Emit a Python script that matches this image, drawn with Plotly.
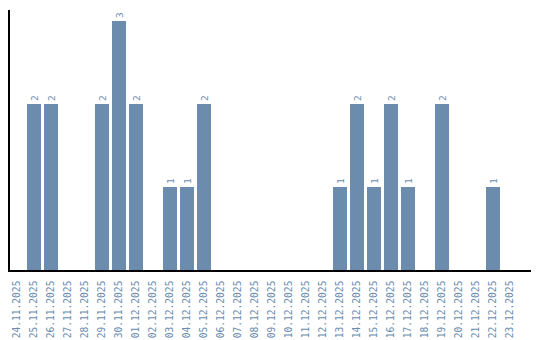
import plotly.graph_objects as go

dates = ["24.11.2025","25.11.2025","26.11.2025","27.11.2025","28.11.2025","29.11.2025",
         "30.11.2025","01.12.2025","02.12.2025","03.12.2025","04.12.2025","05.12.2025",
         "06.12.2025","07.12.2025","08.12.2025","09.12.2025","10.12.2025","11.12.2025",
         "12.12.2025","13.12.2025","14.12.2025","15.12.2025","16.12.2025","17.12.2025",
         "18.12.2025","19.12.2025","20.12.2025","21.12.2025","22.12.2025","23.12.2025"]
counts = [0,2,2,0,0,2,3,2,0,1,1,2,0,0,0,0,0,0,0,1,2,1,2,1,0,2,0,0,1,0]

bar_color = "#6b8cac"
text_color = "#6a8caf"
font_family = "DejaVu Sans Mono"
labels = [str(v) if v > 0 else "" for v in counts]

fig = go.Figure(go.Bar(
    x=list(range(len(dates))), y=counts, marker_color=bar_color, marker_line_width=0,
    text=labels, textposition="outside", textangle=-90,
    textfont=dict(family=font_family, size=9.5, color=text_color),
    cliponaxis=False, width=0.824,
))
fig.update_layout(
    width=540, height=340,
    margin=dict(l=10, r=9, t=10, b=70),
    paper_bgcolor="white", plot_bgcolor="white",
    showlegend=False,
    font=dict(family=font_family, size=10, color=text_color),
)
fig.update_xaxes(range=[-0.412, 30.235], tickmode="array", automargin=False,
                 tickvals=list(range(len(dates))), ticktext=dates,
                 tickangle=-90, showgrid=False, showline=True, zeroline=False,
                 linecolor="black", linewidth=1.5, ticks="", ticklabelstandoff=5,
                 tickfont=dict(family=font_family, size=9.6, color=text_color))
fig.update_yaxes(range=[0, 3.133], showgrid=False, showline=True, linecolor="black",
                 linewidth=1.5, showticklabels=False, ticks="", zeroline=False,
                 automargin=False)
fig.write_html("out.html")
